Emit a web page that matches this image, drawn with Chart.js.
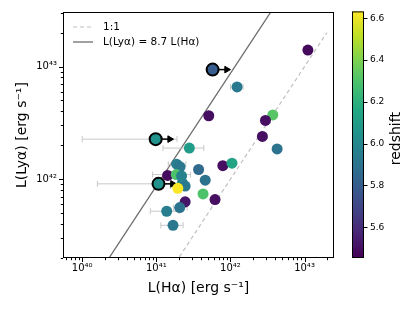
<!DOCTYPE html>
<html>
<head>
<meta charset="utf-8">
<script src="https://cdn.jsdelivr.net/npm/chart.js@4.4.0/dist/chart.umd.min.js"></script>
<style>
  html, body { margin: 0; padding: 0; background: #fff; }
  #wrap { position: relative; width: 415px; height: 311px; }
  #main { position: absolute; left: 0; top: 0; }
  #cbar { position: absolute; left: 340px; top: 0; }
</style>
</head>
<body>
<div id="wrap">
  <canvas id="main" width="415" height="311"></canvas>
  <canvas id="cbar" width="75" height="311"></canvas>
</div>
<script>
// detected galaxies: L(Halpha), L(Lyalpha) in erg/s, redshift
const lHa = [1.11e43, 1.23e42, 5.1e41, 3.73e42, 2.97e42, 2.70e42, 4.27e42, 2.79e41, 1.88e41, 2.09e41,
             3.72e41, 7.9e41, 1.05e42, 1.42e41, 1.86e41, 2.19e41, 4.57e41, 2.24e41, 2.45e41, 1.95e41,
             4.27e41, 2.45e41, 6.2e41, 2.07e41, 1.38e41, 1.68e41];
const lLya = [1.40e43, 6.6e42, 3.66e42, 3.72e42, 3.33e42, 2.40e42, 1.86e42, 1.89e42, 1.36e42, 1.29e42,
              1.22e42, 1.32e42, 1.39e42, 1.08e42, 1.10e42, 1.07e42, 9.8e41, 9.3e41, 8.7e41, 8.3e41,
              7.4e41, 6.3e41, 6.6e41, 5.6e41, 5.2e41, 3.9e41];
const redshift = [5.48, 5.93, 5.5, 6.32, 5.5, 5.5, 5.9, 6.1, 5.95, 5.92,
                  5.86, 5.5, 6.14, 5.49, 6.3, 5.97, 5.9, 5.97, 5.93, 6.63,
                  6.3, 5.52, 5.5, 5.9, 5.95, 5.92];
// horizontal error bars (null = none)
const haErrLo = [null, 1.0e42, null, null, null, null, null, 1.23e41, 1.45e41, null,
                 null, null, null, null, 8.9e40, null, null, null, 1.55e41, null,
                 null, null, null, 1.7e41, 8.3e40, 1.15e41];
const haErrHi = [null, 1.48e42, null, null, null, null, null, 4.37e41, 2.5e41, null,
                 null, null, null, null, 2.9e41, null, null, null, 2.7e41, null,
                 null, null, null, 2.6e41, 2.04e41, 2.3e41];

// lower limits on L(Halpha)
const limHa = [5.75e41, 9.8e40, 1.07e41];
const limLya = [9.4e42, 2.27e42, 9.1e41];
const limZ = [5.8, 6.05, 6.05];
const limErrLo = [null, 1.0e40, 1.6e40];
const limErrHi = [null, 1.9e41, 2.2e41];
const arrowFactor = 1.55;

// reference relations
const ratio = 8.7;
const relX = [1e39, 1e44];
const unityX = [1e41, 2e43];
const legendLabels = ['1:1', 'L(Lyα) = 8.7 L(Hα)'];

const xMin = 5.5e39, xMax = 2.5e43;
const yMin = 2.0e41, yMax = 3.05e43;
const xTickValues = [1e40, 1e41, 1e42, 1e43];
const xTickLabels = ['10⁴⁰', '10⁴¹', '10⁴²', '10⁴³'];
const yTickValues = [1e42, 1e43];
const yTickLabels = ['10⁴²', '10⁴³'];

const zMin = 5.453, zMax = 6.633;
const zTicks = [5.6, 5.8, 6.0, 6.2, 6.4, 6.6];

const VIRIDIS = ['#440154', '#482475', '#414487', '#355f8d', '#2a788e', '#21918c',
                 '#22a884', '#44bf70', '#7ad151', '#bddf26', '#fde725'];

function hexToRgb(h) {
    return [parseInt(h.slice(1, 3), 16), parseInt(h.slice(3, 5), 16), parseInt(h.slice(5, 7), 16)];
}

function viridis(t) {
    t = Math.min(1, Math.max(0, t));
    const p = t * (VIRIDIS.length - 1);
    const i = Math.min(VIRIDIS.length - 2, Math.floor(p));
    const f = p - i;
    const a = hexToRgb(VIRIDIS[i]), b = hexToRgb(VIRIDIS[i + 1]);
    const c = a.map((v, k) => Math.round(v + (b[k] - v) * f));
    return `rgb(${c[0]},${c[1]},${c[2]})`;
}

const zColor = z => viridis((z - zMin) / (zMax - zMin));

function logTicks(min, max) {
    const t = [];
    for (let e = Math.floor(Math.log10(min)); e <= Math.ceil(Math.log10(max)); e++) {
        for (let m = 1; m < 10; m++) {
            const v = m * Math.pow(10, e);
            if (v >= min && v <= max) t.push({ value: v, major: m === 1 });
        }
    }
    return t;
}

function tickLabel(values, labels) {
    return v => {
        const i = values.findIndex(d => Math.abs(Math.log10(d) - Math.log10(v)) < 1e-6);
        return i >= 0 ? labels[i] : '';
    };
}

// build datasets
const datasets = [];

datasets.push({
    type: 'line', label: legendLabels[0],
    data: unityX.map(x => ({ x: x, y: x })),
    borderColor: '#c0c0c0', borderWidth: 1.2, borderDash: [4, 3],
    pointRadius: 0, order: 6
});
datasets.push({
    type: 'line', label: legendLabels[1],
    data: relX.map(x => ({ x: x, y: ratio * x })),
    borderColor: '#6e6e6e', borderWidth: 1.3,
    pointRadius: 0, order: 6
});

function addErrBar(lo, hi, y) {
    if (lo == null) return;
    datasets.push({
        type: 'line',
        data: [{ x: lo, y: y }, { x: hi, y: y }],
        borderColor: '#c8c8c8', borderWidth: 1,
        pointStyle: 'line', rotation: 90, pointRadius: 3,
        pointBorderColor: '#c8c8c8', pointBorderWidth: 1,
        order: 5
    });
}

lHa.forEach((x, i) => addErrBar(haErrLo[i], haErrHi[i], lLya[i]));
limHa.forEach((x, i) => addErrBar(limErrLo[i], limErrHi[i], limLya[i]));

limHa.forEach((x, i) => {
    datasets.push({
        type: 'line',
        data: [{ x: x, y: limLya[i] }, { x: x * arrowFactor, y: limLya[i] }],
        borderColor: '#000', borderWidth: 1.5,
        pointStyle: 'triangle', rotation: 90,
        pointRadius: [0, 3.8], pointBackgroundColor: '#000', pointBorderColor: '#000', pointBorderWidth: 1,
        order: 2
    });
});

datasets.push({
    type: 'scatter',
    data: lHa.map((x, i) => ({ x: x, y: lLya[i] })),
    pointRadius: 5.5, pointBorderWidth: 0,
    pointBackgroundColor: redshift.map(zColor),
    order: 1
});

datasets.push({
    type: 'scatter',
    data: limHa.map((x, i) => ({ x: x, y: limLya[i] })),
    pointRadius: 6, pointBorderWidth: 2, pointBorderColor: '#000',
    pointBackgroundColor: limZ.map(zColor),
    order: 0
});

const frame = {
    id: 'frame',
    afterDraw(chart) {
        const { ctx, chartArea: a, scales } = chart;
        ctx.save();
        ctx.strokeStyle = '#000';
        ctx.lineWidth = 1;
        ctx.strokeRect(a.left + 0.5, a.top + 0.5, a.right - a.left - 1, a.bottom - a.top - 1);
        // ticks
        scales.x.ticks.forEach(t => {
            const px = Math.round(scales.x.getPixelForValue(t.value)) + 0.5;
            const len = t.major ? 4 : 2.2;
            ctx.beginPath();
            ctx.moveTo(px, a.bottom);
            ctx.lineTo(px, a.bottom + len);
            ctx.stroke();
        });
        scales.y.ticks.forEach(t => {
            const py = Math.round(scales.y.getPixelForValue(t.value)) + 0.5;
            const len = t.major ? 4 : 2.2;
            ctx.beginPath();
            ctx.moveTo(a.left, py);
            ctx.lineTo(a.left - len, py);
            ctx.stroke();
        });
        // legend
        ctx.font = '10.5px "DejaVu Sans"';
        ctx.textBaseline = 'middle';
        ctx.fillStyle = '#000';
        [0, 1].forEach(i => {
            const ds = chart.data.datasets[i];
            const y = a.top + 15 + i * 15;
            ctx.strokeStyle = ds.borderColor;
            ctx.lineWidth = ds.borderWidth;
            ctx.setLineDash(ds.borderDash || []);
            ctx.beginPath();
            ctx.moveTo(a.left + 10, y);
            ctx.lineTo(a.left + 30, y);
            ctx.stroke();
            ctx.setLineDash([]);
            ctx.fillText(legendLabels[i], a.left + 40, y);
        });
        ctx.restore();
    }
};

new Chart(document.getElementById('main'), {
    data: { datasets: datasets },
    options: {
        responsive: false,
        animation: false,
        layout: { padding: { left: 0, top: 9, right: 81, bottom: 0 } },
        plugins: { legend: { display: false }, tooltip: { enabled: false } },
        scales: {
            x: {
                type: 'logarithmic', position: 'bottom', min: xMin, max: xMax,
                afterBuildTicks: s => { s.ticks = logTicks(xMin, xMax); },
                afterFit: s => { s.height = 53; },
                grid: { display: false, drawTicks: false },
                border: { display: false },
                ticks: {
                    autoSkip: false, maxRotation: 0, padding: 4,
                    color: '#000', font: { family: 'DejaVu Sans', size: 10 },
                    callback: tickLabel(xTickValues, xTickLabels)
                },
                title: {
                    display: true, text: 'L(Hα) [erg s⁻¹]', color: '#000',
                    font: { family: 'DejaVu Sans', size: 14 }, padding: { top: 0, bottom: 14 }
                }
            },
            y: {
                type: 'logarithmic', position: 'left', min: yMin, max: yMax,
                afterBuildTicks: s => { s.ticks = logTicks(yMin, yMax); },
                afterFit: s => { s.width = 63; },
                grid: { display: false, drawTicks: false },
                border: { display: false },
                ticks: {
                    autoSkip: false, padding: 6,
                    color: '#000', font: { family: 'DejaVu Sans', size: 10 },
                    callback: tickLabel(yTickValues, yTickLabels)
                },
                title: {
                    display: true, text: 'L(Lyα) [erg s⁻¹]', color: '#000',
                    font: { family: 'DejaVu Sans', size: 14 }, padding: { top: 14, bottom: 0 }
                }
            }
        }
    },
    plugins: [frame]
});

// colorbar
const cbarPlugin = {
    id: 'cbarPlugin',
    beforeDatasetsDraw(chart) {
        const { ctx, chartArea: a, scales } = chart;
        ctx.save();
        const g = ctx.createLinearGradient(0, a.bottom, 0, a.top);
        VIRIDIS.forEach((c, i) => g.addColorStop(i / (VIRIDIS.length - 1), c));
        ctx.fillStyle = g;
        ctx.fillRect(a.left, a.top, a.right - a.left, a.bottom - a.top);
        ctx.strokeStyle = '#000';
        ctx.lineWidth = 1;
        ctx.strokeRect(a.left + 0.5, a.top + 0.5, a.right - a.left - 1, a.bottom - a.top - 1);
        scales.y.ticks.forEach(t => {
            const py = Math.round(scales.y.getPixelForValue(t.value)) + 0.5;
            ctx.beginPath();
            ctx.moveTo(a.right, py);
            ctx.lineTo(a.right + 3.5, py);
            ctx.stroke();
        });
        ctx.translate(a.right + 32, (a.top + a.bottom) / 2 + 4);
        ctx.rotate(-Math.PI / 2);
        ctx.font = '14px "DejaVu Sans"';
        ctx.fillStyle = '#000';
        ctx.textAlign = 'center';
        ctx.textBaseline = 'middle';
        ctx.fillText('redshift', 0, 0);
        ctx.restore();
    }
};

new Chart(document.getElementById('cbar'), {
    type: 'scatter',
    data: { datasets: [] },
    options: {
        responsive: false,
        animation: false,
        layout: { padding: { left: 12, top: 9, right: 0, bottom: 53 } },
        plugins: { legend: { display: false }, tooltip: { enabled: false } },
        scales: {
            x: { display: false, min: 0, max: 1 },
            y: {
                type: 'linear', position: 'right', min: zMin, max: zMax,
                afterBuildTicks: s => { s.ticks = zTicks.map(v => ({ value: v })); },
                afterFit: s => { s.width = 51; },
                grid: { display: false, drawTicks: false },
                border: { display: false },
                ticks: {
                    padding: 6, color: '#000', font: { family: 'DejaVu Sans', size: 9 },
                    callback: v => v.toFixed(1)
                }
            }
        }
    },
    plugins: [cbarPlugin]
});
</script>
</body>
</html>
